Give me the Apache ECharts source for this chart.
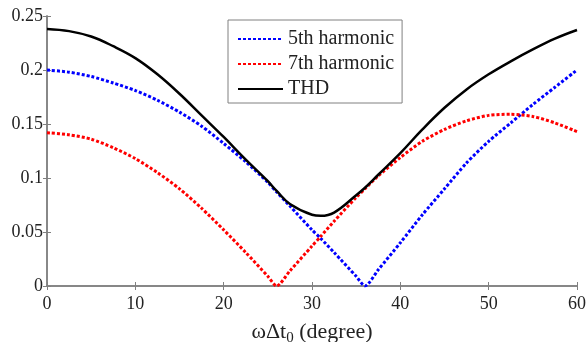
<!DOCTYPE html>
<html>
<head>
<meta charset="utf-8">
<script src="https://cdn.jsdelivr.net/npm/echarts@6/dist/echarts.min.js"></script>
<style>
  html, body { margin: 0; padding: 0; background: #fff; }
  #chart { width: 587px; height: 342px; }
</style>
</head>
<body>
<div id="chart"></div>
<script>
// angle in degrees
const angles = [0, 2.5, 5, 7.5, 10, 12.5, 15, 17.5, 20, 22.5, 25, 26, 27.5, 30, 31, 32.5, 35, 36, 37.5, 40, 42.5, 45, 47.5, 50, 52.5, 55, 57.5, 60];
const fifth = [0.200, 0.198, 0.194, 0.188, 0.181, 0.172, 0.161, 0.148, 0.132, 0.115, 0.096, 0.087, 0.074, 0.052, 0.044, 0.031, 0.009, 0.000, 0.015, 0.040, 0.066, 0.090, 0.114, 0.134, 0.151, 0.168, 0.184, 0.200];
const seventh = [0.142, 0.140, 0.136, 0.128, 0.118, 0.105, 0.090, 0.072, 0.052, 0.031, 0.009, 0.000, 0.014, 0.037, 0.046, 0.060, 0.082, 0.090, 0.102, 0.119, 0.134, 0.145, 0.153, 0.158, 0.159, 0.157, 0.151, 0.143];
const thd = [0.238, 0.236, 0.231, 0.222, 0.211, 0.196, 0.178, 0.158, 0.138, 0.117, 0.097, 0.088, 0.076, 0.066, 0.065, 0.068, 0.084, 0.091, 0.103, 0.123, 0.145, 0.165, 0.182, 0.196, 0.208, 0.219, 0.229, 0.237];

const pairs = ys => angles.map((x, i) => [x, ys[i]]);

const font = 'Liberation Serif';
const axisColor = '#808080';
const textColor = '#222';

const chart = echarts.init(document.getElementById('chart'));

const boxAxis = {
  axisLine: { show: true, lineStyle: { color: axisColor, width: 1.5 } },
  axisTick: { show: true, inside: true, length: 4, lineStyle: { color: axisColor } },
  splitLine: { show: false },
};

chart.setOption({
  animation: false,
  backgroundColor: '#fff',
  textStyle: { fontFamily: font },
  grid: { left: 47, right: 10, top: 16, bottom: 56, outerBoundsMode: 'none' },
  legend: {
    orient: 'vertical',
    left: 228,
    top: 20,
    padding: [9, 8, 4, 9],
    itemGap: 5,
    itemWidth: 45,
    itemHeight: 20,
    icon: 'inherit',
    itemStyle: { opacity: 0 },
    borderColor: axisColor,
    borderWidth: 1,
    backgroundColor: '#fff',
    textStyle: { fontFamily: font, fontSize: 20, color: textColor },
    data: ['5th harmonic', '7th harmonic', 'THD'],
  },
  xAxis: [
    {
      ...boxAxis,
      type: 'value',
      min: 0,
      max: 60,
      interval: 10,
      name: 'ωΔt{sub|0} (degree)',
      nameLocation: 'middle',
      nameGap: 33,
      nameTextStyle: {
        fontFamily: font,
        fontSize: 22,
        color: textColor,
        rich: { sub: { fontFamily: font, fontSize: 15, color: textColor, verticalAlign: 'bottom', padding: [12, 0, 0, 0] } },
      },
      axisLabel: { fontFamily: font, fontSize: 18, color: textColor, margin: 9 },
    },
    {
      ...boxAxis,
      type: 'value',
      position: 'top',
      min: 0,
      max: 60,
      interval: 10,
      axisLabel: { show: false },
    },
  ],
  yAxis: [
    {
      ...boxAxis,
      type: 'value',
      min: 0,
      max: 0.25,
      interval: 0.05,
      axisLabel: { fontFamily: font, fontSize: 18, color: textColor, margin: 4 },
    },
    {
      ...boxAxis,
      type: 'value',
      position: 'right',
      min: 0,
      max: 0.25,
      interval: 0.05,
      axisLabel: { show: false },
    },
  ],
  series: [
    {
      name: '5th harmonic',
      type: 'line',
      data: pairs(fifth),
      showSymbol: false,
      symbol: 'none',
      smooth: 0.25,
      color: '#0000ff',
      lineStyle: { color: '#0000ff', width: 3, type: [3, 2] },
    },
    {
      name: '7th harmonic',
      type: 'line',
      data: pairs(seventh),
      showSymbol: false,
      symbol: 'none',
      smooth: 0.25,
      color: '#ff0000',
      lineStyle: { color: '#ff0000', width: 3, type: [3, 2] },
    },
    {
      name: 'THD',
      type: 'line',
      data: pairs(thd),
      showSymbol: false,
      symbol: 'none',
      smooth: 0.4,
      color: '#000000',
      lineStyle: { color: '#000000', width: 2.5 },
    },
  ],
});
</script>
</body>
</html>
